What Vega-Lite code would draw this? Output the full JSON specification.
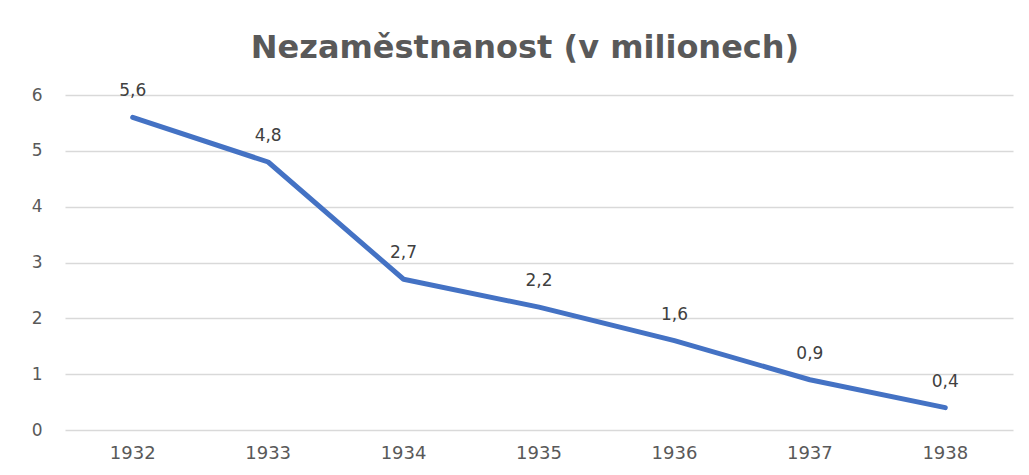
{
  "$schema": "https://vega.github.io/schema/vega-lite/v6.json",
  "autosize": "none",
  "width": 948,
  "height": 335,
  "padding": {"left": 65, "top": 95, "right": 16, "bottom": 45},
  "background": "white",
  "config": {
    "view": {"stroke": null},
    "locale": {"number": {"decimal": ",", "thousands": " ", "grouping": [3], "currency": ["", " Kč"]}},
    "font": "DejaVu Sans"
  },
  "title": {
    "text": "Nezaměstnanost (v milionech)",
    "fontSize": 32,
    "fontWeight": "bold",
    "color": "#595959",
    "font": "DejaVu Sans",
    "anchor": "middle",
    "dx": -14,
    "offset": 17
  },
  "data": {
    "values": [
      {"rok": "1932", "hodnota": 5.6},
      {"rok": "1933", "hodnota": 4.8},
      {"rok": "1934", "hodnota": 2.7},
      {"rok": "1935", "hodnota": 2.2},
      {"rok": "1936", "hodnota": 1.6},
      {"rok": "1937", "hodnota": 0.9},
      {"rok": "1938", "hodnota": 0.4}
    ]
  },
  "encoding": {
    "x": {
      "field": "rok",
      "type": "ordinal",
      "scale": {"type": "band", "paddingInner": 0, "paddingOuter": 0},
      "axis": {
        "title": null,
        "labelAngle": 0,
        "domain": false,
        "ticks": false,
        "labelFontSize": 18,
        "labelColor": "#595959",
        "labelPadding": 14
      }
    },
    "y": {
      "field": "hodnota",
      "type": "quantitative",
      "scale": {"domain": [0, 6], "nice": false},
      "axis": {
        "title": null,
        "values": [0, 1, 2, 3, 4, 5, 6],
        "domain": false,
        "ticks": false,
        "labelFontSize": 17,
        "labelColor": "#595959",
        "labelPadding": 23,
        "gridColor": "#d9d9d9",
        "gridWidth": 1.5
      }
    }
  },
  "layer": [
    {
      "mark": {"type": "line", "color": "#4472C4", "strokeWidth": 5, "strokeCap": "round", "strokeJoin": "round"}
    },
    {
      "mark": {"type": "text", "dy": -26, "fontSize": 17, "color": "#404040", "baseline": "middle"},
      "encoding": {
        "text": {"field": "hodnota", "type": "quantitative", "format": ".1f"}
      }
    }
  ]
}
